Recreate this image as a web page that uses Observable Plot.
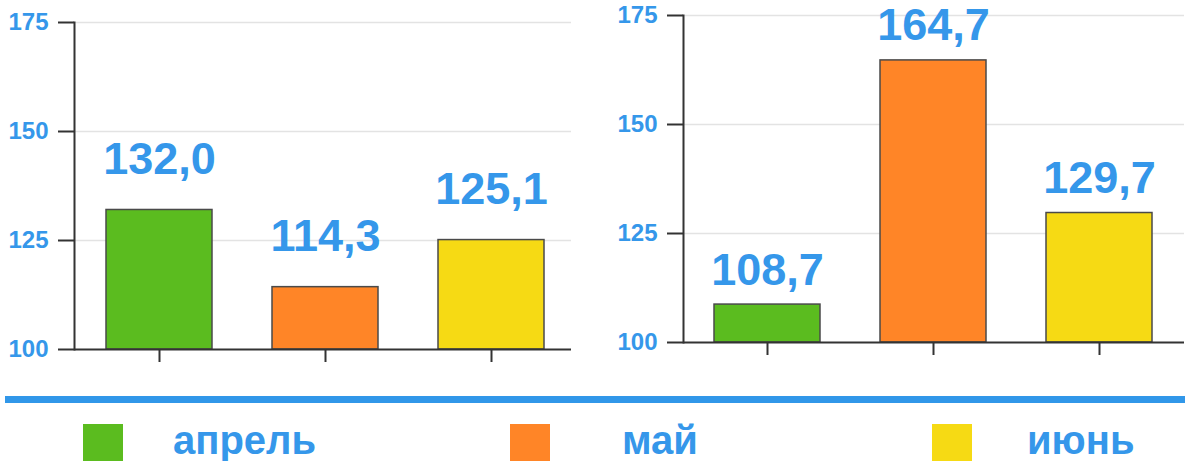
<!DOCTYPE html>
<html>
<head>
<meta charset="utf-8">
<script src="https://cdn.jsdelivr.net/npm/d3@7"></script>
<script src="https://cdn.jsdelivr.net/npm/@observablehq/plot@0.6"></script>
<style>
  html, body { margin: 0; padding: 0; background: #fff; }
  #root { position: relative; width: 1185px; height: 461px; overflow: hidden; font-family: "Liberation Sans", Arial, sans-serif; }
  .panel { position: absolute; top: 0; }
  .rule { position: absolute; left: 5px; top: 396px; width: 1180px; height: 7px; background: #3197e9; }
  .sw { position: absolute; top: 424px; width: 40px; height: 40px; }
  .lab { position: absolute; top: 420px; font-size: 40px; line-height: 40px; font-weight: bold; color: #3597ea; white-space: nowrap; }
</style>
</head>
<body>
<div id="root"></div>
<script>
const months = ["апрель", "май", "июнь"];
const colors = ["#5bbc1f", "#ff8527", "#f6da14"];
const leftValues = [132.0, 114.3, 125.1];
const rightValues = [108.7, 164.7, 129.7];
const yTicks = [100, 125, 150, 175];

const blue = "#3597ea";
const fmt = v => v.toFixed(1).replace(".", ",");

function panel(values, opt) {
  const data = months.map((m, i) => ({month: m, value: values[i], color: colors[i]}));
  return Plot.plot({
    width: opt.width,
    height: opt.height,
    marginLeft: opt.marginLeft,
    marginRight: opt.marginRight,
    marginTop: opt.marginTop,
    marginBottom: opt.marginBottom,
    style: {color: blue, fontFamily: "Liberation Sans, Arial, sans-serif", background: "transparent", overflow: "visible"},
    x: {type: "band", domain: months, range: opt.xRange, paddingInner: 0.363, paddingOuter: 0, axis: null},
    y: {domain: [100, 175], axis: null},
    marks: [
      Plot.gridY(yTicks.filter(t => t > 100), {stroke: "#e3e3e3", strokeOpacity: 1, strokeWidth: 1.5}),
      Plot.barY(data, {x: "month", y1: 100, y2: "value", fill: "color", stroke: "#4a4a4a", strokeWidth: 1.5}),
      Plot.ruleY([100], {stroke: "#333", strokeWidth: 2}),
      Plot.frame({anchor: "left", stroke: "#333", strokeWidth: 2}),
      Plot.axisY({ticks: yTicks, tickSize: 16, tickFormat: () => "", stroke: "#333", strokeWidth: 2, label: null}),
      Plot.text(yTicks, {y: d => d, text: d => String(d), frameAnchor: "left", dx: -26, textAnchor: "end", lineAnchor: "middle", fontSize: 24, fontWeight: "bold", fill: blue}),
      Plot.axisX({tickSize: 13, tickFormat: () => "", stroke: "#333", strokeWidth: 2, label: null}),
      Plot.text(data, {x: "month", y: "value", text: d => fmt(d.value), dy: opt.labelDy, lineAnchor: "bottom", fontSize: 45, fontWeight: "bold", fill: blue})
    ]
  });
}

const root = document.getElementById("root");

const left = panel(leftValues, {width: 580, height: 370, marginLeft: 74, marginRight: 9, marginTop: 22, marginBottom: 21, xRange: [105, 544], labelDy: -36});
const lw = document.createElement("div"); lw.className = "panel"; lw.style.left = "0px"; lw.appendChild(left); root.appendChild(lw);

const right = panel(rightValues, {width: 585, height: 363, marginLeft: 83, marginRight: 1, marginTop: 15, marginBottom: 21, xRange: [113, 553], labelDy: -20});
const rw = document.createElement("div"); rw.className = "panel"; rw.style.left = "600px"; rw.appendChild(right); root.appendChild(rw);

const rule = document.createElement("div"); rule.className = "rule"; root.appendChild(rule);

const swX = [83, 510, 932];
const labX = [173, 622, 1027];
months.forEach((m, i) => {
  const s = document.createElement("div"); s.className = "sw"; s.style.left = swX[i] + "px"; s.style.background = colors[i]; root.appendChild(s);
  const t = document.createElement("div"); t.className = "lab"; t.style.left = labX[i] + "px"; t.textContent = m; root.appendChild(t);
});
</script>
</body>
</html>
